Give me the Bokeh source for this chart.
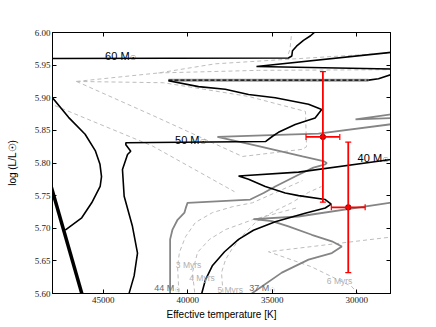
from bokeh.plotting import figure
from bokeh.models import (Range1d, LinearAxis, FixedTicker, ColumnDataSource, Whisker,
                          TeeHead, PrintfTickFormatter, NumeralTickFormatter)
from bokeh.core.properties import value
from bokeh.embed import file_html
from bokeh.resources import INLINE

# ---------------- data (Teff [K], log L/Lsun) ----------------
x_ticks = [30000, 35000, 40000, 45000]
y_ticks = [5.60, 5.65, 5.70, 5.75, 5.80, 5.85, 5.90, 5.95, 6.00]

zams_T = [48300, 46100]
zams_L = [5.784, 5.585]

t60a_T = [48240, 48000, 47050, 46070, 45470, 45190, 45100, 45180, 45680, 46270, 47250]
t60a_L = [5.908, 5.900, 5.870, 5.844, 5.819, 5.798, 5.779, 5.764, 5.739, 5.716, 5.697]

t60b_T = [48830, 34040, 33840, 33800, 33560, 33150, 32730, 32380]
t60b_L = [5.960, 5.961, 5.964, 5.972, 5.979, 5.988, 5.995, 6.003]

t60c_T = [27800, 35930, 27800]
t60c_L = [5.970, 5.948, 5.944]

band_T = [41140, 29300]
band_L = [5.927, 5.927]
band_end_T = [29300, 28710, 27800]
band_end_L = [5.927, 5.929, 5.937]

t50_T = [41140, 39360, 37780, 36400, 34820, 32850, 32070, 32460, 33640, 34630, 34980, 35380,
         43660, 43660, 43370, 43560, 43860, 43760, 43270, 42970, 43170, 43460, 43560]
t50_L = [5.926, 5.917, 5.913, 5.905, 5.900, 5.890, 5.882, 5.869, 5.859, 5.847, 5.841, 5.833,
         5.831, 5.828, 5.818, 5.813, 5.790, 5.749, 5.703, 5.662, 5.627, 5.601, 5.591]

t40_T = [39240, 39170, 38950, 38530, 37820, 36990, 36110, 34820, 33050, 31860, 31510, 31860,
         33440, 34230, 35410, 36400, 36990, 33440, 27800]
t40_L = [5.591, 5.600, 5.621, 5.643, 5.664, 5.683, 5.697, 5.710, 5.723, 5.731, 5.737, 5.744,
         5.750, 5.754, 5.764, 5.775, 5.780, 5.786, 5.806]

g44_T = [41040, 41040, 40900, 40600, 40190, 40100, 40010, 36300, 35510, 34820, 33440, 32560,
         31860, 31770, 31970, 33210, 35810, 38240, 34630, 32260, 27800]
g44_L = [5.591, 5.683, 5.698, 5.713, 5.724, 5.732, 5.739, 5.744, 5.754, 5.764, 5.782, 5.793,
         5.798, 5.800, 5.803, 5.810, 5.826, 5.840, 5.843, 5.845, 5.860]
g44b_T = [27800, 30070, 27800]
g44b_L = [5.875, 5.867, 5.869]

g37_T = [36720, 36210, 34430, 32850, 31470, 30880, 31470, 32660, 34040, 35020, 36110, 33440, 27800]
g37_L = [5.591, 5.600, 5.632, 5.652, 5.662, 5.672, 5.680, 5.690, 5.703, 5.711, 5.714, 5.718, 5.740]

iso_T = [
    [46580, 41730, 38370, 33440, 27800],
    [41730, 35810, 27800],
    [33830, 33950, 34100],
    [46580, 41430, 36400, 33030, 32970, 33210],
    [46580, 42080, 38530, 36760, 33210],
    [48240, 42080, 37230],
    [40500, 40600, 40490, 40130, 39540, 38530, 37350, 36170, 33210],
    [39540, 39720, 39420, 38710, 37760, 36170, 34570, 33440],
    [37880, 38000, 37760, 37410, 36820, 35990, 35040, 33860, 32850, 32080],
    [29600, 30310, 32680, 35220, 27800],
]
iso_L = [
    [5.925, 5.938, 5.952, 5.960, 5.969],
    [5.938, 5.942, 5.943],
    [6.005, 5.974, 5.963],
    [5.925, 5.923, 5.902, 5.879, 5.825, 5.821],
    [5.925, 5.873, 5.831, 5.810, 5.821],
    [5.892, 5.826, 5.756],
    [5.591, 5.641, 5.663, 5.687, 5.709, 5.724, 5.733, 5.739, 5.773],
    [5.591, 5.632, 5.663, 5.683, 5.698, 5.713, 5.724, 5.732],
    [5.591, 5.632, 5.652, 5.667, 5.687, 5.709, 5.724, 5.739, 5.755, 5.764],
    [5.591, 5.611, 5.641, 5.664, 5.687],
]

obs_T = [32000, 30500]
obs_L = [5.840, 5.732]
obs_Terr = [1000, 1000]
obs_Lerr = [0.10, 0.10]

mass_lab_T = [43440, 39300, 28500]
mass_lab_L = [5.964, 5.836, 5.807]
mass_lab = ["60 M", "50 M", "40 M"]

gmass_lab_T = [40800, 35180]
gmass_lab_L = [5.609, 5.609]
gmass_lab = ["44 M", "37 M"]

age_lab_T = [40700, 39910, 38240, 31770]
age_lab_L = [5.643, 5.624, 5.605, 5.619]
age_lab = ["3 Myrs", "4 Myrs", "5 Myrs", "6 Myrs"]

# ---------------- figure ----------------
p = figure(frame_width=338, frame_height=261, output_backend="svg", toolbar_location=None,
           x_range=Range1d(48000, 28000), y_range=Range1d(5.60, 6.00),
           min_border_left=52, min_border_top=32, min_border_right=24, min_border_bottom=10)
p.grid.visible = False
p.outline_line_color = "black"
p.outline_line_width = 1
p.background_fill_color = "white"
p.border_fill_color = "white"

SERIF = "Liberation Serif"
SANS = "Liberation Sans"


def style(ax, ticks, show_labels):
    ax.ticker = FixedTicker(ticks=ticks)
    ax.major_tick_in = 4
    ax.major_tick_out = 0
    ax.minor_tick_line_color = None
    ax.axis_line_color = "black"
    ax.major_tick_line_color = "black"
    ax.major_label_text_font = SERIF
    if show_labels:
        ax.major_label_text_font_size = "9px"
        ax.major_label_text_color = "#222222"
    else:
        ax.major_label_text_font_size = "1px"
        ax.major_label_text_color = None
        ax.major_label_standoff = 0


style(p.xaxis[0], x_ticks, True)
style(p.yaxis[0], y_ticks, True)
p.xaxis[0].formatter = NumeralTickFormatter(format="0")
p.yaxis[0].formatter = PrintfTickFormatter(format="%.2f")
p.xaxis[0].major_label_standoff = 3
p.yaxis[0].major_label_standoff = 2
p.xaxis[0].axis_label = "Effective temperature [K]"
p.yaxis[0].axis_label = "log (L/L\u2609)"
for ax in (p.xaxis[0], p.yaxis[0]):
    ax.axis_label_text_font = SANS
    ax.axis_label_text_font_size = "10px"
    ax.axis_label_text_font_style = "normal"
    ax.axis_label_text_color = "black"
p.xaxis[0].axis_label_standoff = 3
p.yaxis[0].axis_label_standoff = 14

top = LinearAxis()
style(top, x_ticks, False)
right = LinearAxis()
style(right, y_ticks, False)
p.add_layout(top, "above")
p.add_layout(right, "right")

# isochrones
p.multi_line(xs=iso_T, ys=iso_L, line_color="#bdbdbd", line_width=1, line_dash="4 3")

# grey tracks
p.line(g44_T, g44_L, line_color="#858585", line_width=1.8)
p.line(g44b_T, g44b_L, line_color="#858585", line_width=1.8)
p.line(g37_T, g37_L, line_color="#858585", line_width=1.8)
p.line(band_T, band_L, line_color="#9a9a9a", line_width=3)

# black tracks
p.line(zams_T, zams_L, line_color="black", line_width=3.5)
p.line(t60a_T, t60a_L, line_color="black", line_width=1.6)
p.line(t60b_T, t60b_L, line_color="black", line_width=1.6)
p.line(t60c_T, t60c_L, line_color="black", line_width=1.6)
p.line(t50_T, t50_L, line_color="black", line_width=1.6)
p.line(t40_T, t40_L, line_color="black", line_width=1.6)
p.line(band_T, band_L, line_color="black", line_width=1.4, line_dash="4 2")
p.line(band_end_T, band_end_L, line_color="black", line_width=1.6)

# observations with error bars
src = ColumnDataSource(dict(
    T=obs_T, L=obs_L,
    Tlo=[t - e for t, e in zip(obs_T, obs_Terr)], Thi=[t + e for t, e in zip(obs_T, obs_Terr)],
    Llo=[l - e for l, e in zip(obs_L, obs_Lerr)], Lhi=[l + e for l, e in zip(obs_L, obs_Lerr)],
))
for dim, base, lo, hi in (("height", "T", "Llo", "Lhi"), ("width", "L", "Tlo", "Thi")):
    w = Whisker(source=src, base=base, lower=lo, upper=hi, dimension=dim,
                line_color="red", line_width=1.8, level="annotation",
                upper_head=TeeHead(size=6, line_color="red", line_width=1.2),
                lower_head=TeeHead(size=6, line_color="red", line_width=1.2))
    p.add_layout(w)
p.scatter(x="T", y="L", source=src, size=5.5, fill_color="#e00000", line_color="#600000",
          line_width=0.8, level="annotation")

# labels
p.text(x=mass_lab_T, y=mass_lab_L, text=mass_lab, text_font=value(SANS), text_font_size="11px",
       text_align="right", text_baseline="alphabetic", text_color="black")
p.text(x=mass_lab_T, y=mass_lab_L, text=["\u2609"] * 3, text_font=value("DejaVu Sans"),
       text_font_size="7px", x_offset=0.5, y_offset=2, text_align="left",
       text_baseline="alphabetic", text_color="black")
p.text(x=gmass_lab_T, y=gmass_lab_L, text=gmass_lab, text_font=value(SANS), text_font_size="9px",
       text_align="right", text_baseline="alphabetic", text_color="#6a6a6a")
p.text(x=gmass_lab_T, y=gmass_lab_L, text=["\u2609"] * 2, text_font=value("DejaVu Sans"),
       text_font_size="6px", x_offset=0.5, y_offset=2, text_align="left",
       text_baseline="alphabetic", text_color="#6a6a6a")
p.text(x=age_lab_T, y=age_lab_L, text=age_lab, text_font=value(SANS), text_font_size="8.5px",
       text_align="left", text_baseline="alphabetic", text_color="#b0b0b0")

open("out.html", "w").write(file_html(p, INLINE))
